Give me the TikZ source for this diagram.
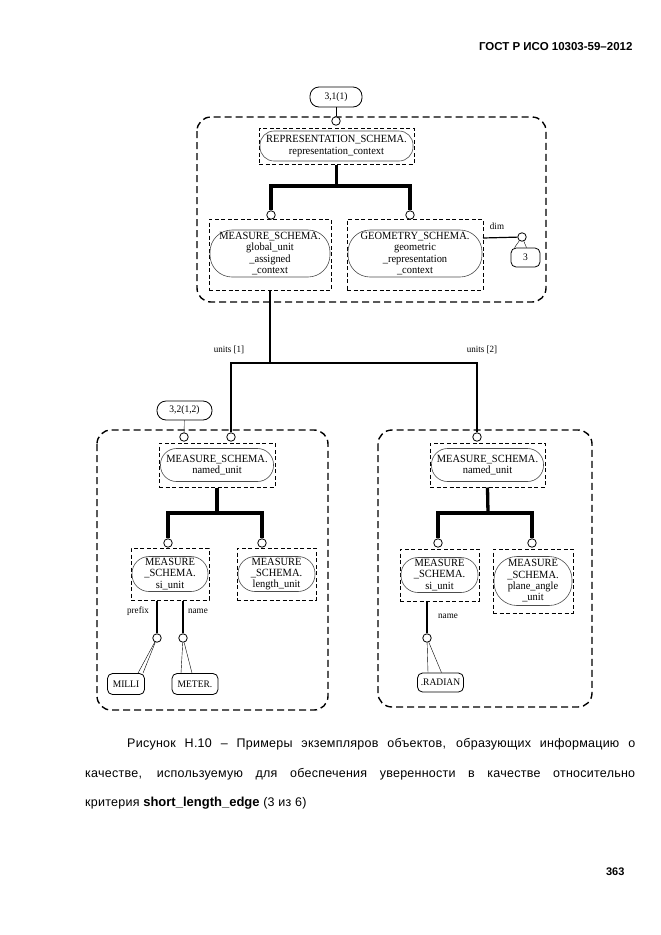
\documentclass[tikz,border=0pt]{standalone}
\usepackage{fontspec}
\setmainfont{Liberation Sans}
\newfontfamily\diafont[FakeStretch=0.95]{Liberation Serif}
\newfontfamily\capfont[LetterSpace=2]{Liberation Sans}
\tikzset{
  frame/.style={draw, line width=1.4pt, dash pattern=on 7pt off 4pt, rounded corners=14pt},
  entbox/.style={draw, line width=1pt, dash pattern=on 4pt off 2.5pt, inner sep=0pt},
  pill/.style={draw=black!70, line width=0.6pt, inner sep=0pt, align=center,
    font=\diafont\fontsize{11}{11.3}\selectfont},
  refbox/.style={draw, line width=0.8pt, rounded corners=5pt, inner sep=0pt,
    font=\diafont\fontsize{10}{10}\selectfont},
  knot/.style={circle, draw, line width=0.8pt, minimum size=8.5pt, inner sep=0pt, fill=white},
  tree/.style={line width=3.3pt},
  rel/.style={line width=1.2pt},
  lbl/.style={font=\diafont\fontsize{9.5}{10}\selectfont},
  capline/.style={anchor=base west, inner sep=0pt, font=\capfont\fontsize{12.5}{14}\selectfont},
}
\begin{document}
\begin{tikzpicture}[x=1pt, y=-1pt]
  \useasboundingbox (0,0) rectangle (661,935);
  % page head
  \node[anchor=base east, font=\bfseries\fontsize{11.5}{12}\selectfont] (hdr) at (636,50) {ГОСТ Р ИСО 10303-59–2012};

  % groups
  \draw[frame] (197,117) rectangle (546,302);
  \draw[frame] (97,430) rectangle (328,710);
  \draw[frame] (378,430) rectangle (592,707);

  % upper group
  \node[refbox, minimum width=52pt, minimum height=20pt, rounded corners=9pt] (ref31) at (336,97) {3,1(1)};
  \node[knot] (k31) at (336,121) {};
  \draw (ref31) -- (k31);
  \node[entbox, minimum width=155pt, minimum height=36pt] (rep) at (336.5,146) {};
  \node[pill, minimum width=153pt, minimum height=30pt, rounded corners=14pt] at (rep) {REPRESENTATION\_SCHEMA.\\representation\_context};
  \node[entbox, minimum width=122pt, minimum height=71pt] (gu) at (270,254.5) {};
  \node[pill, minimum width=120pt, minimum height=47pt, rounded corners=22pt] at ([yshift=1pt]gu.center) {MEASURE\_SCHEMA.\\global\_unit\\\_assigned\\\_context};
  \node[entbox, minimum width=136pt, minimum height=71pt] (geo) at (415,254.5) {};
  \node[pill, minimum width=134pt, minimum height=47pt, rounded corners=22pt] at ([yshift=1pt]geo.center) {GEOMETRY\_SCHEMA.\\geometric\\\_representation\\\_context};
  \node[knot] (k2) at (271,215) {};
  \node[knot] (k3) at (410,215) {};
  \coordinate (fork1) at (336.5,186);
  \draw[tree] (rep.south) -- (fork1);
  \draw[tree] (k2) |- (fork1) -| (k3);
  % dim
  \coordinate (dim0) at (483,238);
  \node[knot] (kdim) at (522,237) {};
  \draw[rel] (dim0) -- (kdim);
  \node[lbl] (dimlbl) at (497,226) {dim};
  \node[refbox, minimum width=29pt, minimum height=19pt] (box3) at (525.5,257.5) {3};
  \draw (kdim) -- ([xshift=-11pt]box3.north);
  \draw (kdim) -- ([xshift=1pt]box3.north);

  % units
  \coordinate (u0) at (270,363);
  \node[knot] (kA) at (231,437) {};
  \node[knot] (kB) at (477,437) {};
  \draw[rel] (gu.south) -- (u0);
  \draw[rel] (kA) |- (u0) -| (kB);
  \node[lbl] (un1) at (229,350) {units [1]};
  \node[lbl] (un2) at (482,350) {units [2]};

  % left group
  \node[refbox, minimum width=55pt, minimum height=19pt, rounded corners=9pt] (ref32) at (184.5,410.5) {3,2(1,2)};
  \node[knot] (k32) at (184,437) {};
  \draw (ref32) -- (k32);
  \node[entbox, minimum width=116pt, minimum height=44pt] (nu1) at (217,465) {};
  \node[pill, minimum width=113pt, minimum height=33pt, rounded corners=16pt] at (nu1) {MEASURE\_SCHEMA.\\named\_unit};
  \node[entbox, minimum width=78pt, minimum height=52pt] (si1) at (170,574) {};
  \node[pill, minimum width=76pt, minimum height=35pt, rounded corners=17pt] at (si1) {MEASURE\\\_SCHEMA.\\si\_unit};
  \node[entbox, minimum width=79pt, minimum height=52pt] (len1) at (276.5,574) {};
  \node[pill, minimum width=77pt, minimum height=35pt, rounded corners=17pt] at (len1) {MEASURE\\\_SCHEMA.\\length\_unit};
  \node[knot] (k4) at (168,543) {};
  \node[knot] (k5) at (262,543) {};
  \coordinate (fork2) at (217,513);
  \draw[tree] (nu1.south) -- (fork2);
  \draw[tree] (k4) |- (fork2) -| (k5);
  \node[knot] (kpf) at (157,638) {};
  \node[knot] (knm) at (183,638) {};
  \draw[rel] ([xshift=-13pt]si1.south) -- (kpf);
  \draw[rel] ([xshift=13pt]si1.south) -- (knm);
  \node[lbl] (pflbl) at (138,611) {prefix};
  \node[lbl] (nmlbl) at (198,611) {name};
  \node[refbox, minimum width=37pt, minimum height=21pt] (milli) at (126,684) {MILLI};
  \node[refbox, minimum width=46pt, minimum height=21pt] (meter) at (195,684) {METER.};
  \draw (kpf) -- ([xshift=12pt]milli.north);
  \draw (kpf) -- ([xshift=17pt]milli.north);
  \draw (knm) -- ([xshift=-14pt]meter.north);
  \draw (knm) -- ([xshift=-3pt]meter.north);

  % right group
  \node[entbox, minimum width=115pt, minimum height=44pt] (nu2) at (487.5,465) {};
  \node[pill, minimum width=112pt, minimum height=33pt, rounded corners=16pt] at (nu2) {MEASURE\_SCHEMA.\\named\_unit};
  \node[entbox, minimum width=79pt, minimum height=52pt] (si2) at (439.5,575) {};
  \node[pill, minimum width=77pt, minimum height=35pt, rounded corners=17pt] at (si2) {MEASURE\\\_SCHEMA.\\si\_unit};
  \node[entbox, minimum width=80pt, minimum height=64pt] (pa) at (533,581) {};
  \node[pill, minimum width=78pt, minimum height=49pt, rounded corners=23pt] at (pa) {MEASURE\\\_SCHEMA.\\plane\_angle\\\_unit};
  \node[knot] (k6) at (438,543) {};
  \node[knot] (k7) at (532,543) {};
  \coordinate (fork3) at (488,513);
  \draw[tree] (nu2.south) -- (fork3);
  \draw[tree] (k6) |- (fork3) -| (k7);
  \node[knot] (knm2) at (427,638) {};
  \draw[rel] ([xshift=-12.5pt]si2.south) -- (knm2);
  \node[lbl] (nmlbl2) at (448,616) {name};
  \node[refbox, minimum width=46pt, minimum height=19pt] (radian) at (440.5,682.5) {.RADIAN};
  \draw (knm2) -- ([xshift=-12.5pt]radian.north);
  \draw (knm2) -- ([xshift=1pt]radian.north);

  % caption
  \node[capline] (cap1) at (127,747)
    {\makebox[508pt][s]{Рисунок Н.10 – Примеры экземпляров объектов, образующих информацию о}};
  \node[capline] (cap2) at (85,777)
    {\makebox[550pt][s]{качестве, используемую для обеспечения уверенности в качестве относительно}};
  \node[capline] (cap3) at (85,806)
    {критерия {\normalfont\bfseries\fontsize{13}{14}\selectfont short\_length\_edge} (3 из 6)};
  % page number
  \node[anchor=base east, font=\bfseries\fontsize{11}{12}\selectfont] (pnum) at (628,875) {363};
\end{tikzpicture}
\end{document}
